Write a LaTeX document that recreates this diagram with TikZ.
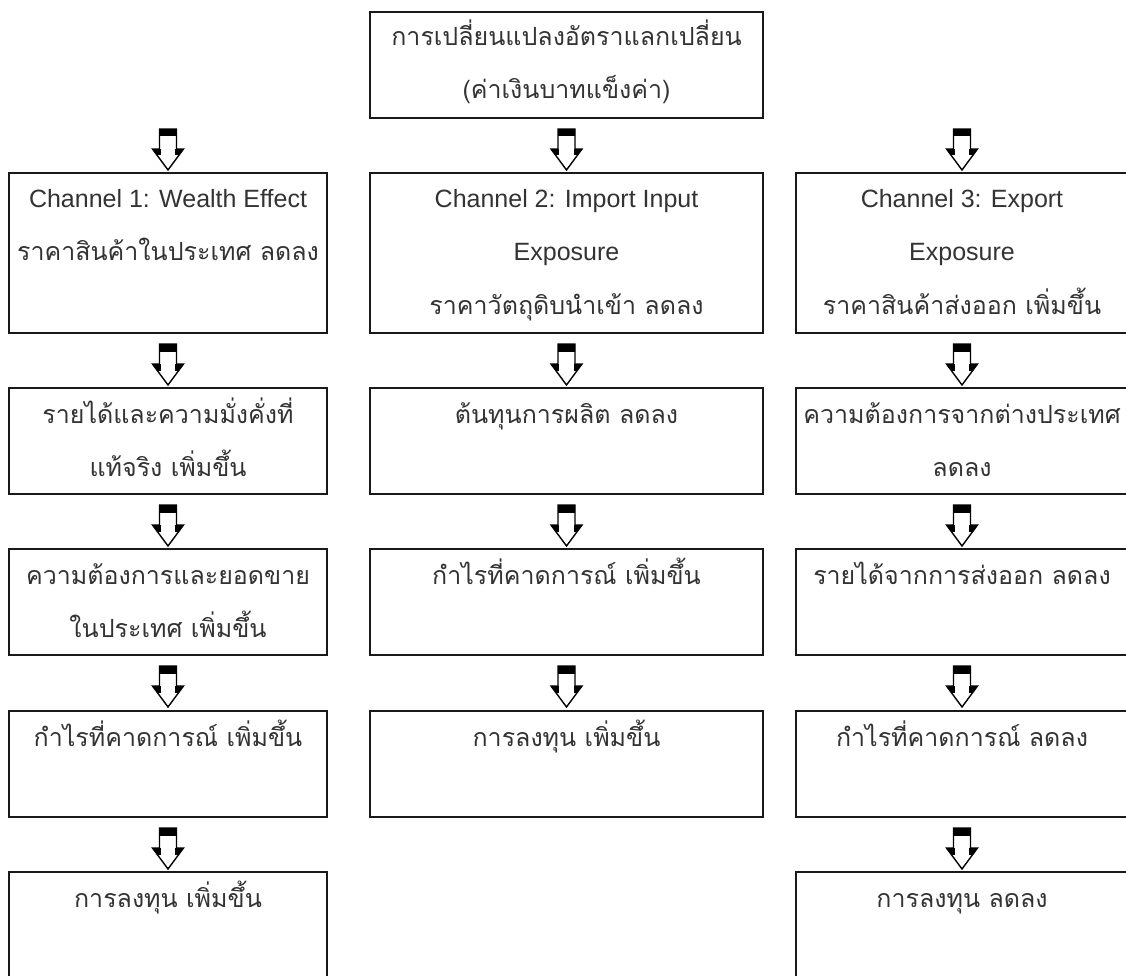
\documentclass[tikz,border=0pt]{standalone}
\usepackage{fontspec}
\setmainfont[Script=Thai]{Loma}
\newfontfamily\lat{Liberation Sans}
\usetikzlibrary{calc}
\newcommand{\ml}[1]{\begin{tabular}[t]{@{}c@{}}#1\end{tabular}}
\tikzset{
  box/.style={draw=black!90, line width=2.9pt, inner sep=0pt, outer sep=0pt, anchor=north west},
  txt/.style={anchor=base, inner sep=0pt, text=black!80, font=\fontsize{25}{53}\selectfont},
  barrow/.pic={
    \begin{scope}
      \clip (-8.5,0) -- (8.5,0) -- (8.5,20) -- (15.5,20) -- (0,41) -- (-15.5,20) -- (-8.5,20) -- cycle;
      \fill[black] (-9,0) rectangle (9,7.5);
      \fill[black] (-16,20) rectangle (-7.3,26.5);
      \fill[black] (7.3,20) rectangle (16,26.5);
    \end{scope}
    \draw[line width=1.4pt, line join=miter] (-8.5,0) -- (8.5,0) -- (8.5,20) -- (15.5,20) -- (0,41) -- (-15.5,20) -- (-8.5,20) -- cycle;
  }
}
\begin{document}
\begin{tikzpicture}[x=1pt,y=-1pt]
\useasboundingbox (0,0) rectangle (1126,976);
\clip (0,0) rectangle (1126,976);
% boxes
\node[box, minimum width=393pt, minimum height=106pt] (top) at (370,12) {};
\node[box, minimum width=318pt, minimum height=160pt] (a1) at (9,173) {};
\node[box, minimum width=393pt, minimum height=160pt] (b1) at (370,173) {};
\node[box, minimum width=332pt, minimum height=160pt] (c1) at (796,173) {};
\node[box, minimum width=318pt, minimum height=106pt] (a2) at (9,388) {};
\node[box, minimum width=393pt, minimum height=106pt] (b2) at (370,388) {};
\node[box, minimum width=332pt, minimum height=106pt] (c2) at (796,388) {};
\node[box, minimum width=318pt, minimum height=106pt] (a3) at (9,549) {};
\node[box, minimum width=393pt, minimum height=106pt] (b3) at (370,549) {};
\node[box, minimum width=332pt, minimum height=106pt] (c3) at (796,549) {};
\node[box, minimum width=318pt, minimum height=106pt] (a4) at (9,711) {};
\node[box, minimum width=393pt, minimum height=106pt] (b4) at (370,711) {};
\node[box, minimum width=332pt, minimum height=106pt] (c4) at (796,711) {};
\node[box, minimum width=318pt, minimum height=130pt] (a5) at (9,872) {};
\node[box, minimum width=332pt, minimum height=130pt] (c5) at (796,872) {};
% texts
\node[txt] (ttop) at ($(top.north)+(0,34)$) {\ml{การเปลี่ยนแปลงอัตราแลกเปลี่ยน\\(ค่าเงินบาทแข็งค่า)}};
\node[txt] (ta1) at ($(a1.north)+(0,35)$) {\ml{{\lat Channel 1: Wealth Effect}\\ราคาสินค้าในประเทศ ลดลง}};
\node[txt] (tb1) at ($(b1.north)+(0,35)$) {\ml{{\lat Channel 2: Import Input}\\{\lat Exposure}\\ราคาวัตถุดิบนำเข้า ลดลง}};
\node[txt] (tc1) at ($(c1.north)+(0,35)$) {\ml{{\lat Channel 3: Export}\\{\lat Exposure}\\ราคาสินค้าส่งออก เพิ่มขึ้น}};
\node[txt] (ta2) at ($(a2.north)+(0,35)$) {\ml{รายได้และความมั่งคั่งที่\\แท้จริง เพิ่มขึ้น}};
\node[txt] (tb2) at ($(b2.north)+(0,35)$) {\ml{ต้นทุนการผลิต ลดลง}};
\node[txt] (tc2) at ($(c2.north)+(0,35)$) {\ml{ความต้องการจากต่างประเทศ\\ลดลง}};
\node[txt] (ta3) at ($(a3.north)+(0,35)$) {\ml{ความต้องการและยอดขาย\\ในประเทศ เพิ่มขึ้น}};
\node[txt] (tb3) at ($(b3.north)+(0,35)$) {\ml{กำไรที่คาดการณ์ เพิ่มขึ้น}};
\node[txt] (tc3) at ($(c3.north)+(0,35)$) {\ml{รายได้จากการส่งออก ลดลง}};
\node[txt] (ta4) at ($(a4.north)+(0,35)$) {\ml{กำไรที่คาดการณ์ เพิ่มขึ้น}};
\node[txt] (tb4) at ($(b4.north)+(0,35)$) {\ml{การลงทุน เพิ่มขึ้น}};
\node[txt] (tc4) at ($(c4.north)+(0,35)$) {\ml{กำไรที่คาดการณ์ ลดลง}};
\node[txt] (ta5) at ($(a5.north)+(0,35)$) {\ml{การลงทุน เพิ่มขึ้น}};
\node[txt] (tc5) at ($(c5.north)+(0,35)$) {\ml{การลงทุน ลดลง}};
% block arrows
\path (top.south -| a1.north) ++(0,11) pic {barrow};
\path (top.south) ++(0,11) pic {barrow};
\path (top.south -| c1.north) ++(0,11) pic {barrow};
\foreach \u/\v in {a1/a2,a2/a3,a3/a4,a4/a5,b1/b2,b2/b3,b3/b4,c1/c2,c2/c3,c3/c4,c4/c5}{
  \path (\u.south) ++(0,11) pic {barrow};
}
\end{tikzpicture}
\end{document}
